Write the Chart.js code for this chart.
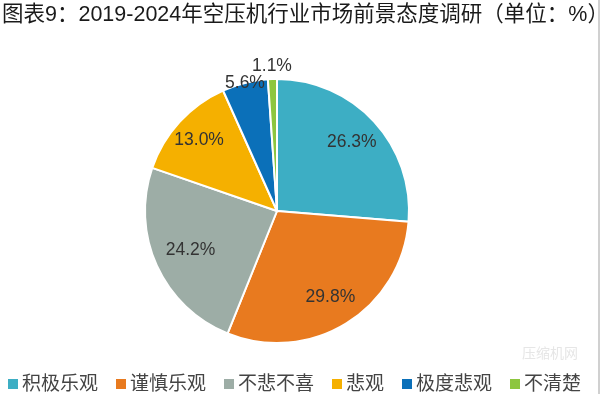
<!DOCTYPE html>
<html>
<head>
<meta charset="utf-8">
<script src="https://cdn.jsdelivr.net/npm/chart.js@4.4.0/dist/chart.umd.min.js"></script>
<style>
  html, body { margin: 0; padding: 0; background: #fff; }
  #wrap { width: 600px; height: 394px; position: relative; }
</style>
</head>
<body>
<div id="wrap"><canvas id="myChart" width="600" height="394"></canvas></div>
<script>
const titulo = '图表9：2019-2024年空压机行业市场前景态度调研（单位：%）';
const categorias = ['积极乐观', '谨慎乐观', '不悲不喜', '悲观', '极度悲观', '不清楚'];
const valores = [26.3, 29.8, 24.2, 13.0, 5.6, 1.1];
const cores = ['#3daec4', '#e87a1f', '#9dada6', '#f5b000', '#0b70b9', '#8dc63f'];

const fonte = '"Liberation Sans", "Noto Sans CJK SC", sans-serif';

// distancia do rotulo ao centro, em fracao do raio
const raioRotulo = [0.77, 0.77, 0.72, 0.8, 1.0, 1.1];

const extras = {
  id: 'extras',
  afterDraw(chart) {
    const c = chart.ctx;
    c.save();

    // titulo
    c.fillStyle = '#1a1a1a';
    c.font = '21.5px ' + fonte;
    c.textAlign = 'left';
    c.textBaseline = 'middle';
    c.fillText(titulo, 2, 15);

    // rotulos das fatias
    const arcs = chart.getDatasetMeta(0).data;
    c.font = '17.5px ' + fonte;
    c.fillStyle = '#333';
    c.textAlign = 'center';
    arcs.forEach((a, i) => {
      const ang = (a.startAngle + a.endAngle) / 2;
      const r = a.outerRadius * raioRotulo[i];
      c.fillText(valores[i].toFixed(1) + '%', a.x + Math.cos(ang) * r, a.y + Math.sin(ang) * r);
    });

    // legenda
    c.font = '19px ' + fonte;
    c.textAlign = 'left';
    let x = 8;
    const y = 384;
    categorias.forEach((nome, i) => {
      c.fillStyle = cores[i];
      c.fillRect(x, y - 5, 10, 10);
      c.fillStyle = '#444';
      c.fillText(nome, x + 14, y + 1);
      x += 14 + c.measureText(nome).width + 18;
    });

    // marca d'agua
    c.font = '14px ' + fonte;
    c.fillStyle = '#e6e6e6';
    c.fillText('压缩机网', 522, 354);

    // borda direita
    c.fillStyle = '#d0d0d0';
    c.fillRect(598, 0, 2, 394);
    c.restore();
  }
};

new Chart(document.getElementById('myChart'), {
  type: 'pie',
  data: {
    labels: categorias,
    datasets: [{
      data: valores,
      backgroundColor: cores,
      borderColor: '#fff',
      borderWidth: 2,
      hoverOffset: 0
    }]
  },
  options: {
    responsive: false,
    animation: false,
    layout: { padding: { left: 144, right: 190, top: 78, bottom: 50 } },
    plugins: {
      legend: { display: false },
      title: { display: false },
      tooltip: { enabled: false }
    }
  },
  plugins: [extras]
});
</script>
</body>
</html>
